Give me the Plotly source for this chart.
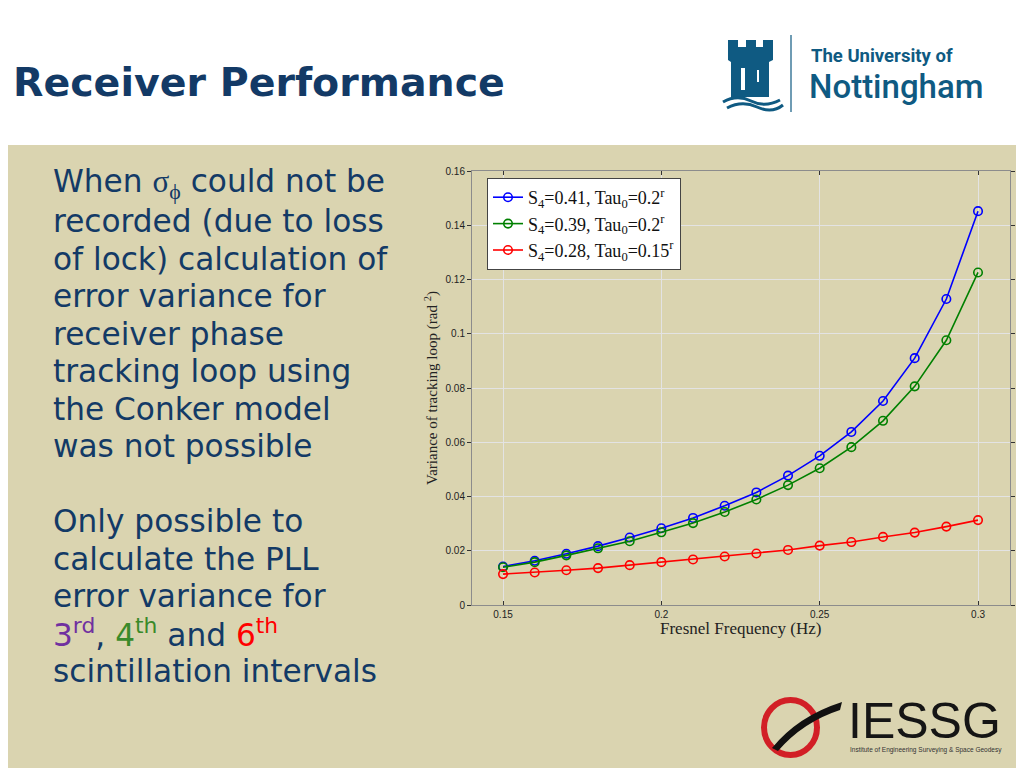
import plotly.graph_objects as go

# ---------------- data ----------------
freq = [0.15, 0.16, 0.17, 0.18, 0.19, 0.20, 0.21, 0.22,
        0.23, 0.24, 0.25, 0.26, 0.27, 0.28, 0.29, 0.30]
var_s441 = [0.0142, 0.0163, 0.0189, 0.0217, 0.0249, 0.0283, 0.0321, 0.0366,
            0.0415, 0.0477, 0.0550, 0.0638, 0.0752, 0.0910, 0.1128, 0.1452]
var_s439 = [0.0139, 0.0158, 0.0183, 0.0209, 0.0235, 0.0268, 0.0302, 0.0343,
            0.0389, 0.0442, 0.0504, 0.0582, 0.0679, 0.0806, 0.0976, 0.1226]
var_s428 = [0.0114, 0.0120, 0.0128, 0.0136, 0.0147, 0.0158, 0.0168, 0.0179,
            0.0190, 0.0203, 0.0219, 0.0232, 0.0251, 0.0267, 0.0289, 0.0313]
series_names = ["S<sub>4</sub>=0.41, Tau<sub>0</sub>=0.2<sup>r</sup>",
                "S<sub>4</sub>=0.39, Tau<sub>0</sub>=0.2<sup>r</sup>",
                "S<sub>4</sub>=0.28, Tau<sub>0</sub>=0.15<sup>r</sup>"]
series_colors = ["#0000FF", "#008000", "#FF0000"]
x_tickvals = [0.15, 0.2, 0.25, 0.3]
x_ticktext = ["0.15", "0.2", "0.25", "0.3"]
y_tickvals = [0, 0.02, 0.04, 0.06, 0.08, 0.1, 0.12, 0.14, 0.16]
y_ticktext = ["0", "0.02", "0.04", "0.06", "0.08", "0.1", "0.12", "0.14", "0.16"]

title_text = "Receiver Performance"
x_title = "Fresnel Frequency (Hz)"
y_title = "Variance of tracking loop (rad <sup>2</sup>)"
body_lines = [
    "When <span style='font-family:Liberation Serif'>σ<sub>ϕ</sub></span> could not be",
    "recorded (due to loss",
    "of lock) calculation of",
    "error variance for",
    "receiver phase",
    "tracking loop using",
    "the Conker model",
    "was not possible",
    "",
    "Only possible to",
    "calculate the PLL",
    "error variance for",
    "<span style='color:#7030A0'>3<sup>rd</sup></span>, "
    "<span style='color:#3A8A2A'>4<sup>th</sup></span> and "
    "<span style='color:#FF0000'>6<sup>th</sup></span>",
    "scintillation intervals",
]

W, H = 1024, 768
OFF = 8  # page body margin compensation
def px(x):
    return (x - OFF) / W
def py(y):
    return 1 - (y - OFF) / H
def path(pts, close=True):
    s = "M " + " L ".join(f"{px(a):.5f},{py(b):.5f}" for a, b in pts)
    return s + (" Z" if close else "")

fig = go.Figure()
for i, (vals, name, col) in enumerate(zip([var_s441, var_s439, var_s428], series_names, series_colors)):
    fig.add_trace(go.Scatter(
        x=freq, y=vals, name=name, mode="lines+markers",
        line=dict(color=col, width=1.6),
        marker=dict(symbol="circle-open", size=8.5, color=col, line=dict(width=1.6, color=col)),
        legendgroup=f"g{i}",
    ))

navy = "#133A66"
teal = "#0F5A82"
khaki = "#DAD4B0"

shapes = [
    dict(type="rect", xref="paper", yref="paper", x0=-0.05, x1=1.05, y0=-0.05, y1=py(145),
         fillcolor=khaki, line=dict(width=0), layer="below"),
    # Nottingham logo
    dict(type="path", xref="paper", yref="paper", fillcolor=teal, line=dict(width=0),
         path=path([(728, 40), (738, 40), (738, 47), (746, 47), (746, 40), (756, 40), (756, 47),
                    (763, 47), (763, 40), (773, 40), (773, 60), (769, 62), (769, 97), (731, 97),
                    (731, 62), (728, 60)])),
    dict(type="rect", xref="paper", yref="paper", x0=px(741), x1=px(745), y0=py(90), y1=py(68),
         fillcolor="white", line=dict(width=0)),
    dict(type="rect", xref="paper", yref="paper", x0=px(757), x1=px(759), y0=py(82), y1=py(70),
         fillcolor="white", line=dict(width=0)),
    dict(type="path", xref="paper", yref="paper", line=dict(color=teal, width=3),
         path=f"M {px(723)},{py(102)} Q {px(737)},{py(94)} {px(751)},{py(101)} T {px(780)},{py(100)}"),
    dict(type="path", xref="paper", yref="paper", line=dict(color=teal, width=3),
         path=f"M {px(727)},{py(108)} Q {px(742)},{py(100)} {px(757)},{py(107)} T {px(783)},{py(105)}"),
    dict(type="line", xref="paper", yref="paper", x0=px(791), x1=px(791), y0=py(35), y1=py(112),
         line=dict(color=teal, width=1.2)),
    # IESSG logo
    dict(type="circle", xref="paper", yref="paper", x0=px(764), x1=px(817), y0=py(755), y1=py(700),
         line=dict(color="#D21F26", width=6)),
    dict(type="path", xref="paper", yref="paper", fillcolor="#111111", line=dict(width=0),
         path=f"M {px(772)},{py(748)} Q {px(798)},{py(716)} {px(842)},{py(702)} "
              f"L {px(840)},{py(710)} Q {px(803)},{py(722)} {px(778)},{py(751)} Z"),
]

annotations = [
    dict(text=f"<b>{title_text}</b>", x=px(11), y=py(82), xref="paper", yref="paper",
         xanchor="left", yanchor="middle", showarrow=False,
         font=dict(family="DejaVu Sans", size=39.5, color=navy)),
    dict(text="<b>The University of</b>", x=px(809), y=py(56), xref="paper", yref="paper",
         xanchor="left", yanchor="middle", showarrow=False,
         font=dict(family="Roboto", size=18.5, color=teal)),
    dict(text="Nottingham", x=px(807), y=py(86), xref="paper", yref="paper",
         xanchor="left", yanchor="middle", showarrow=False,
         font=dict(family="Roboto", size=33, color=teal, weight=500)),
    dict(text="IESSG", x=px(846), y=py(721), xref="paper", yref="paper",
         xanchor="left", yanchor="middle", showarrow=False,
         font=dict(family="Liberation Sans", size=50, color="#151515")),
    dict(text="Institute of Engineering Surveying & Space Geodesy", x=px(848), y=py(750),
         xref="paper", yref="paper", xanchor="left", yanchor="middle", showarrow=False,
         font=dict(family="Liberation Sans", size=6.5, color="#333333")),
    dict(text=x_title, x=px(740), y=py(628), xref="paper", yref="paper",
         xanchor="center", yanchor="middle", showarrow=False,
         font=dict(family="Liberation Serif", size=17, color="#222222")),
    dict(text=y_title, x=px(431), y=py(388), xref="paper", yref="paper", textangle=-90,
         xanchor="center", yanchor="middle", showarrow=False,
         font=dict(family="Liberation Serif", size=15, color="#222222")),
]
for i, line in enumerate(body_lines):
    if not line:
        continue
    yc = 184 + i * 37.45
    annotations.append(dict(text=line, x=px(51), y=py(yc), xref="paper", yref="paper",
                            xanchor="left", yanchor="middle", showarrow=False,
                            font=dict(family="DejaVu Sans", size=31.2, color=navy)))

axis_common = dict(showline=True, linecolor="#8C8C8C", linewidth=1, mirror="allticks",
                   ticklen=4, tickcolor="#333333",
                   showgrid=True, gridcolor="#E3E3E3", gridwidth=1, zeroline=False,
                   tickfont=dict(family="Liberation Sans", size=10, color="#222222"))

fig.update_layout(
    width=W, height=H, margin=dict(l=0, r=0, t=0, b=0, autoexpand=False),
    paper_bgcolor="white", plot_bgcolor="white",
    xaxis=dict(domain=[px(472), px(1010)], range=[0.1402, 0.3101], ticks="inside",
               tickvals=x_tickvals, ticktext=x_ticktext, automargin=False, **axis_common),
    yaxis=dict(domain=[py(605), py(171)], range=[0, 0.16], ticks="outside",
               tickvals=y_tickvals, ticktext=y_ticktext, automargin=False, **axis_common),
    legend=dict(x=px(487), y=py(178), xanchor="left", yanchor="top",
                bgcolor="white", bordercolor="#444444", borderwidth=1,
                font=dict(family="Liberation Serif", size=18, color="#111111"),
                itemwidth=30, tracegroupgap=0, traceorder="grouped"),
    shapes=shapes, annotations=annotations, showlegend=True,
)

fig.write_html("out.html")
